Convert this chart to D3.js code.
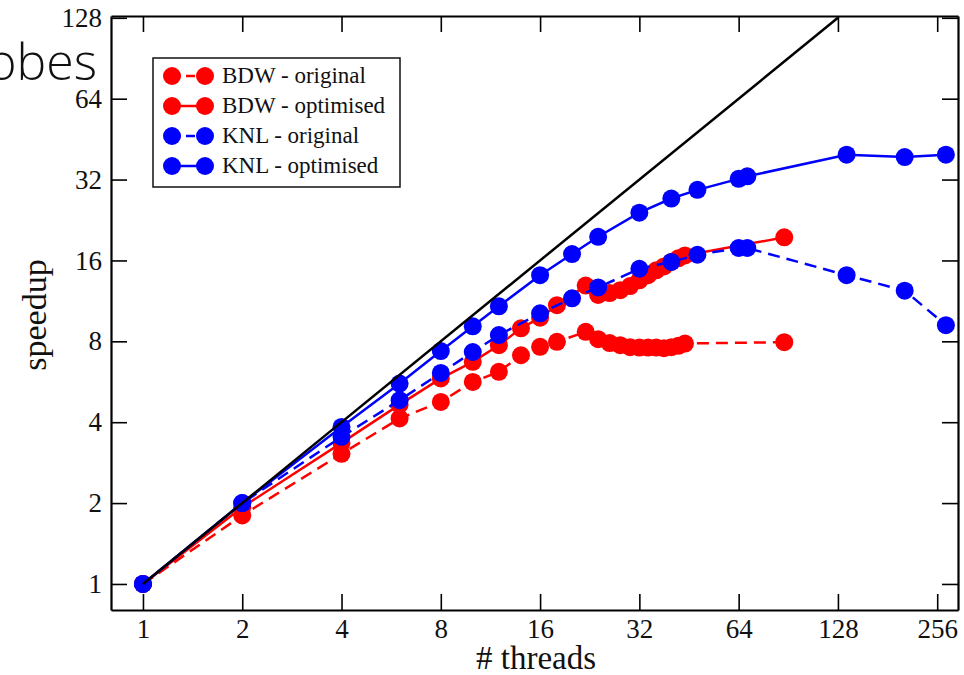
<!DOCTYPE html>
<html>
<head>
<meta charset="utf-8">
<script src="https://cdn.jsdelivr.net/npm/d3@7"></script>
<style>
  body { margin: 0; background: #fff; }
  svg { display: block; }
</style>
</head>
<body>
<div id="chart"></div>
<script>
// thread counts
const bdwThreads = [1, 2, 4, 6, 8, 10, 12, 14, 16, 18, 22, 24, 26, 28, 30, 32, 34, 36, 38, 40, 42, 44, 88];
const knlThreads = [1, 2, 4, 6, 8, 10, 12, 16, 20, 24, 32, 40, 48, 64, 68, 136, 204, 272];

// speedups
const bdwOriginal  = [1, 1.80, 3.05, 4.13, 4.76, 5.65, 6.16, 7.1, 7.63, 7.97, 8.68, 8.15, 7.88, 7.74, 7.61, 7.58, 7.58, 7.58, 7.54, 7.61, 7.70, 7.85, 7.94];
const bdwOptimised = [1, 1.93, 3.35, 4.65, 5.82, 6.71, 7.74, 8.94, 9.8, 10.9, 12.9, 11.9, 12.1, 12.4, 12.85, 13.5, 14.1, 14.7, 15.2, 15.8, 16.3, 16.7, 19.5];
const knlOriginal  = [1, 2.0, 3.53, 4.83, 6.1, 7.3, 8.44, 10.17, 11.56, 12.7, 14.9, 15.8, 16.8, 17.8, 17.8, 14.1, 12.35, 9.19];
const knlOptimised = [1, 2.0, 3.84, 5.57, 7.36, 9.1, 10.8, 14.1, 16.9, 19.6, 24.1, 27.2, 29.3, 32.2, 32.9, 39.6, 38.8, 39.6];

// ideal line
const idealThreads = [1, 128];

const xTicks = [1, 2, 4, 8, 16, 32, 64, 128, 256];
const yTicks = [1, 2, 4, 8, 16, 32, 64, 128];

const seriesNames = ['BDW - original', 'BDW - optimised', 'KNL - original', 'KNL - optimised'];

let width = 964, height = 675;
let margin = {top: 16, right: 6, bottom: 65, left: 111};
let innerW = width - margin.left - margin.right,
    innerH = height - margin.top - margin.bottom;

let svg = d3.select('#chart')
  .append('svg')
    .attr('width', width)
    .attr('height', height);

// stray slide title fragment behind the figure
svg.append('text')
  .attr('x', 97)
  .attr('y', 80)
  .attr('text-anchor', 'end')
  .style('font-family', 'Open Sans')
  .style('font-weight', 300)
  .style('font-size', '50px')
  .style('fill', '#111')
  .text('obes');

let g = svg.append('g')
  .attr('transform', 'translate(' + margin.left + ',' + margin.top + ')');

let x = d3.scaleLog().base(2).domain([0.8, 296]).range([0, innerW]);
let y = d3.scaleLog().base(2).domain([0.8, 130]).range([innerH, 0]);

const fmt = d => String(d);

// axes, ticks pointing inward on all four sides
let styleAxis = (sel, size) => {
  sel.attr('font-family', 'Liberation Serif').attr('font-size', size);
  sel.select('.domain').attr('stroke-width', 2.2);
  sel.selectAll('.tick line').attr('stroke-width', 1.6);
  sel.selectAll('text').attr('fill', '#111');
};

g.append('g')
  .attr('transform', 'translate(0,' + innerH + ')')
  .call(d3.axisBottom(x).tickValues(xTicks).tickFormat(fmt).tickSize(-16).tickSizeOuter(0).tickPadding(9))
  .call(s => styleAxis(s, 27));

g.append('g')
  .call(d3.axisTop(x).tickValues(xTicks).tickFormat('').tickSize(-16).tickSizeOuter(0))
  .call(s => styleAxis(s, 27));

g.append('g')
  .call(d3.axisLeft(y).tickValues(yTicks).tickFormat(fmt).tickSize(-16).tickSizeOuter(0).tickPadding(9))
  .call(s => styleAxis(s, 27));

g.append('g')
  .attr('transform', 'translate(' + innerW + ',0)')
  .call(d3.axisRight(y).tickValues(yTicks).tickFormat('').tickSize(-16).tickSizeOuter(0))
  .call(s => styleAxis(s, 27));

// axis labels
svg.append('text')
  .attr('x', 536)
  .attr('y', 669)
  .attr('text-anchor', 'middle')
  .style('font-family', 'Liberation Serif')
  .style('font-size', '33px')
  .style('fill', '#111')
  .text('# threads');

svg.append('text')
  .attr('transform', 'translate(46,' + 315 + ')rotate(-90)')
  .attr('text-anchor', 'middle')
  .style('font-family', 'Liberation Serif')
  .style('font-size', '34px')
  .style('fill', '#111')
  .text('speedup');

// data series
let plotArea = g.append('g');

let series = [
  {threads: bdwThreads, values: bdwOriginal,  color: '#ff0000', dash: '12,7'},
  {threads: bdwThreads, values: bdwOptimised, color: '#ff0000', dash: null},
  {threads: knlThreads, values: knlOriginal,  color: '#0000ff', dash: '12,7'},
  {threads: knlThreads, values: knlOptimised, color: '#0000ff', dash: null}
];

let line = d3.line()
  .x(d => x(d[0]))
  .y(d => y(d[1]));

series.forEach(s => {
  let pts = s.threads.map((t, i) => [t, s.values[i]]);
  plotArea.append('path')
    .datum(pts)
    .attr('d', line)
    .attr('fill', 'none')
    .attr('stroke', s.color)
    .attr('stroke-width', 2.5)
    .attr('stroke-dasharray', s.dash);
  plotArea.append('g')
    .selectAll('circle')
    .data(pts)
    .enter()
    .append('circle')
      .attr('cx', d => x(d[0]))
      .attr('cy', d => y(d[1]))
      .attr('r', 9)
      .attr('fill', s.color);
});

// ideal speedup
plotArea.append('path')
  .datum(idealThreads.map(t => [t, t]))
  .attr('d', line)
  .attr('fill', 'none')
  .attr('stroke', '#000')
  .attr('stroke-width', 2.5);

// legend
let legend = svg.append('g').attr('transform', 'translate(153,58)');
legend.append('rect')
  .attr('width', 247)
  .attr('height', 129)
  .attr('fill', '#fff')
  .attr('stroke', '#111')
  .attr('stroke-width', 1.5);

series.forEach((s, i) => {
  let row = legend.append('g').attr('transform', 'translate(0,' + (18 + i * 30) + ')');
  row.append('line')
    .attr('x1', 19).attr('x2', 52)
    .attr('stroke', s.color)
    .attr('stroke-width', 2.5)
    .attr('stroke-dasharray', s.dash ? '9,5' : null);
  row.selectAll('circle')
    .data([19, 52])
    .enter()
    .append('circle')
      .attr('cx', d => d)
      .attr('r', 9)
      .attr('fill', s.color);
  row.append('text')
    .attr('x', 69)
    .attr('y', 7)
    .style('font-family', 'Liberation Serif')
    .style('font-size', '23px')
    .style('fill', '#111')
    .text(seriesNames[i]);
});
</script>
</body>
</html>
